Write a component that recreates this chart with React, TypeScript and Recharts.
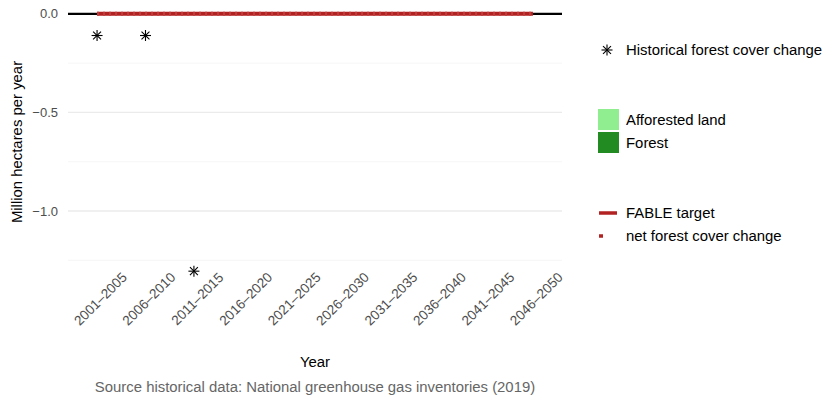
import React from "react";
import {
  ComposedChart,
  Line,
  Scatter,
  XAxis,
  YAxis,
  ReferenceLine,
} from "recharts";

// periods on the x axis
const categories = [
  "2001–2005",
  "2006–2010",
  "2011–2015",
  "2016–2020",
  "2021–2025",
  "2026–2030",
  "2031–2035",
  "2036–2040",
  "2041–2045",
  "2046–2050",
];

// historical forest cover change (only first three periods reported)
const historical = [-0.11, -0.11, -1.305];
// FABLE target and net forest cover change, one per period
const fableTarget = [0, 0, 0, 0, 0, 0, 0, 0, 0, 0];
const netChange = [0, 0, 0, 0, 0, 0, 0, 0, 0, 0];

const yTicks = [0, -0.5, -1.0];
const yMinor = [-0.25, -0.75, -1.25];

const FONT = 'Helvetica, "Liberation Sans", Arial, sans-serif';
const RED = "#b22222";
const LEG = 14.9;

const rows = categories.map((c, i) => ({
  x: i + 1,
  period: c,
  fable: fableTarget[i],
  net: netChange[i],
}));
const histRows = historical.map((v, i) => ({ x: i + 1, hist: v }));

function Asterisk({ cx, cy, r = 5.5 }: { cx: number; cy: number; r?: number }) {
  const d = r * 0.72;
  return (
    <g stroke="#000" strokeWidth={1.1}>
      <line x1={cx - r} y1={cy} x2={cx + r} y2={cy} />
      <line x1={cx} y1={cy - r} x2={cx} y2={cy + r} />
      <line x1={cx - d} y1={cy - d} x2={cx + d} y2={cy + d} />
      <line x1={cx - d} y1={cy + d} x2={cx + d} y2={cy - d} />
    </g>
  );
}

function XTick(props: any) {
  const { x, payload } = props;
  return (
    <text
      transform={`translate(${x + 3.5},299) rotate(-45)`}
      textAnchor="middle"
      dominantBaseline="central"
      fontSize={13.6}
      fill="#4d4d4d"
      fontFamily={FONT}
    >
      {categories[payload.value - 1]}
    </text>
  );
}

function YTick(props: any) {
  const { y, payload } = props;
  const v = payload.value as number;
  const s = (v < 0 ? "\u2212" : "") + Math.abs(v).toFixed(1);
  return (
    <text
      x={58}
      y={y}
      textAnchor="end"
      dominantBaseline="central"
      fontSize={13}
      fill="#4d4d4d"
      fontFamily={FONT}
    >
      {s}
    </text>
  );
}

export default function App() {
  return (
    <div
      style={{
        position: "absolute",
        left: 0,
        top: 0,
        width: 822,
        height: 400,
        background: "#fff",
        fontFamily: FONT,
      }}
    >
      <ComposedChart
        width={822}
        height={400}
        data={rows}
        margin={{ top: 1, right: 260, left: 0, bottom: 0 }}
      >
        <XAxis
          type="number"
          dataKey="x"
          domain={[0.4, 10.6]}
          ticks={rows.map((r) => r.x)}
          interval={0}
          height={117}
          axisLine={false}
          tickLine={false}
          tick={<XTick />}
          allowDataOverflow
        />
        <YAxis
          type="number"
          domain={[-1.365, 0.065]}
          ticks={yTicks}
          width={68}
          axisLine={false}
          tickLine={false}
          tick={<YTick />}
          allowDataOverflow
        />
        {yMinor.map((v) => (
          <ReferenceLine key={`mi${v}`} y={v} stroke="#f2f2f2" strokeWidth={0.7} />
        ))}
        {yTicks.map((v) => (
          <ReferenceLine key={`ma${v}`} y={v} stroke="#ebebeb" strokeWidth={1.3} />
        ))}
        <ReferenceLine y={0} stroke="#000" strokeWidth={2.2} />
        <Line
          dataKey="fable"
          stroke={RED}
          strokeWidth={4}
          dot={false}
          isAnimationActive={false}
        />
        <Line
          dataKey="net"
          stroke="#bf3c3c"
          strokeWidth={4}
          strokeDasharray="2 4"
          dot={false}
          isAnimationActive={false}
        />
        <Scatter
          data={histRows}
          dataKey="hist"
          isAnimationActive={false}
          shape={(p: any) => <Asterisk cx={p.cx} cy={p.cy} />}
        />
      </ComposedChart>
      <svg
        width={822}
        height={400}
        style={{ position: "absolute", left: 0, top: 0, pointerEvents: "none" }}
        fontFamily={FONT}
      >
        <text
          transform="translate(17,142) rotate(-90)"
          textAnchor="middle"
          dominantBaseline="central"
          fontSize={LEG}
          fill="#000"
        >
          Million hectares per year
        </text>
        <text x={315} y={362} textAnchor="middle" dominantBaseline="central" fontSize={LEG} fill="#000">
          Year
        </text>
        <text x={315} y={387} textAnchor="middle" dominantBaseline="central" fontSize={LEG} fill="#666">
          Source historical data: National greenhouse gas inventories (2019)
        </text>

        <Asterisk cx={607} cy={50} />
        <text x={626} y={50} dominantBaseline="central" fontSize={LEG} fill="#000">
          Historical forest cover change
        </text>

        <rect x={598} y={109} width={21} height={21} fill="#90ee90" />
        <text x={626} y={120} dominantBaseline="central" fontSize={LEG} fill="#000">
          Afforested land
        </text>
        <rect x={598} y={132} width={21} height={21} fill="#228b22" />
        <text x={626} y={143} dominantBaseline="central" fontSize={LEG} fill="#000">
          Forest
        </text>

        <line x1={599} y1={213} x2={617} y2={213} stroke={RED} strokeWidth={3.5} />
        <text x={626} y={213} dominantBaseline="central" fontSize={LEG} fill="#000">
          FABLE target
        </text>
        <line
          x1={599}
          y1={236}
          x2={617}
          y2={236}
          stroke={RED}
          strokeWidth={3.5}
          strokeDasharray="4 14"
        />
        <text x={626} y={236} dominantBaseline="central" fontSize={LEG} fill="#000">
          net forest cover change
        </text>
      </svg>
    </div>
  );
}
